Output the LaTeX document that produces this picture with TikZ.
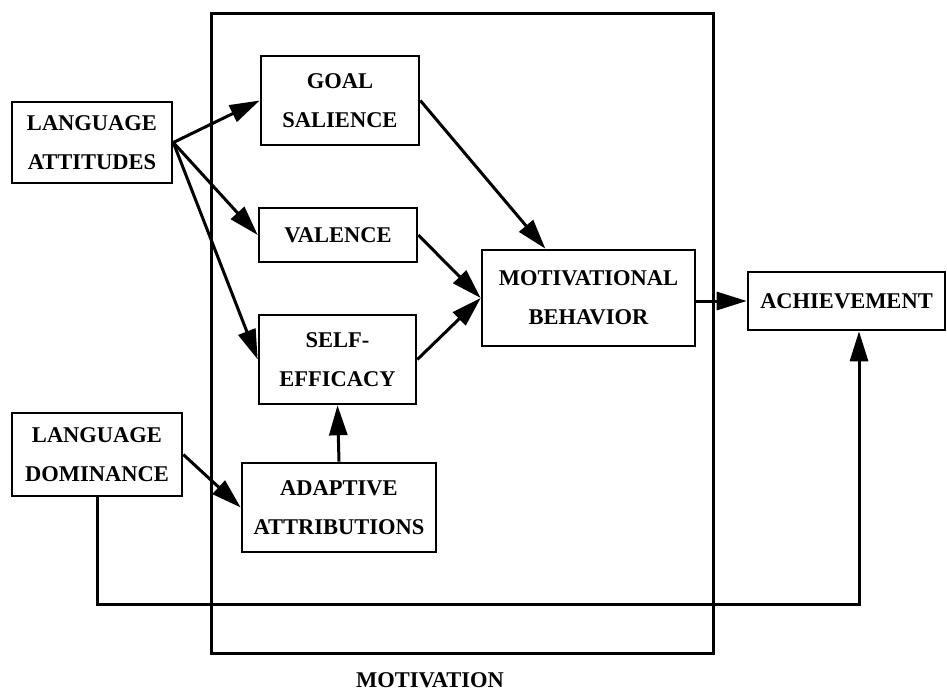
\documentclass[tikz,border=0pt]{standalone}
\usepackage{fontspec}
\setmainfont{Liberation Serif}
\usetikzlibrary{arrows.meta,calc}
\tikzset{
  box/.style={draw=black,line width=2.6pt,fill=white,align=center,inner sep=0pt,font=\bfseries\fontsize{22.5}{39}\selectfont},
  frame/.style={draw=black,line width=3pt},
  flow/.style={-{Triangle[length=30pt,width=18pt]},line width=3pt,draw=black},
  label/.style={font=\bfseries\fontsize{22.5}{39}\selectfont,inner sep=0pt}
}

\begin{document}
\begin{tikzpicture}[x=1pt,y=-1pt]
\useasboundingbox (0,0) rectangle (947,691);
\draw[frame] (211,13) rectangle (713,653);
\node[label] (motivation) at (430,680) {MOTIVATION};

\node[box,minimum width=160pt,minimum height=81pt] (attitudes) at (92,142.5) {LANGUAGE\\ATTITUDES};
\node[box,minimum width=170pt,minimum height=83pt] (dominance) at (97,454.5) {LANGUAGE\\DOMINANCE};
\node[box,minimum width=158pt,minimum height=89pt] (goal) at (340,100.5) {GOAL\\SALIENCE};
\node[box,minimum width=158pt,minimum height=54pt] (valence) at (338,235) {VALENCE};
\node[box,minimum width=157pt,minimum height=89pt] (selfeff) at (337.5,359.5) {SELF-\\EFFICACY};
\node[box,minimum width=194pt,minimum height=89pt] (adaptive) at (339,507.5) {ADAPTIVE\\ATTRIBUTIONS};
\node[box,minimum width=213pt,minimum height=96pt] (behavior) at (588.5,298) {MOTIVATIONAL\\BEHAVIOR};
\node[box,minimum width=197pt,minimum height=58pt] (achieve) at (846.5,301) {ACHIEVEMENT};
\coordinate (bottomrun) at (0,604);

\draw[flow] (attitudes.east) -- (goal.west);
\draw[flow] (attitudes.east) -- (valence.west);
\draw[flow] (attitudes.east) -- (selfeff.west);
\draw[flow] (goal.east) -- ($(behavior.north west)!0.3!(behavior.north east)$);
\draw[flow] (valence.east) -- (behavior.west);
\draw[flow] (selfeff.east) -- (behavior.west);
\draw[flow] (behavior.east |- achieve.west) -- (achieve.west);
\draw[flow] (adaptive.north) -- (selfeff.south);
\draw[flow] (dominance.east) -- (adaptive.west);
\draw[flow] (dominance.south) -- (dominance.south |- bottomrun) -| ([xshift=12.5pt]achieve.south);
\end{tikzpicture}
\end{document}
